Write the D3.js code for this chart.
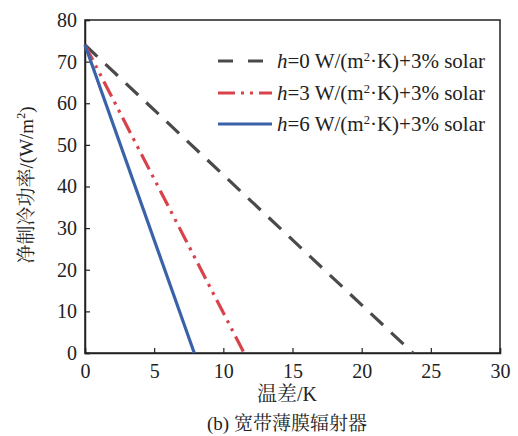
<!DOCTYPE html>
<html><head><meta charset="utf-8">
<script src="https://cdn.jsdelivr.net/npm/d3@7"></script>
<style>body{margin:0;background:#fff}</style>
</head><body>
<script>
const xTicks = [0,5,10,15,20,25,30];
const yTicks = [0,10,20,30,40,50,60,70,80];
const seriesNames = ["h=0","h=3","h=6"];
const seriesX = [[0, 23.7],[0, 11.5],[0, 7.9]];
const seriesY = [[74, 0],[74, 0],[74, 0]];
const colors = ["#4a4a4a","#d8424a","#3a62a8"];
const dashes = ["17,11","17,6,3,6,3,6","none"];
const legendText = ["=0 W/(m","=3 W/(m","=6 W/(m"];

const FONT='"Liberation Serif","Times New Roman","Noto Serif CJK SC","Noto Sans CJK SC",serif';
const W=518,H=436;
const svg=d3.select("body").append("svg").attr("width",W).attr("height",H);
const m={l:85,r:18,t:20,b:83};
const x=d3.scaleLinear().domain([0,30]).range([m.l,W-m.r]);
const y=d3.scaleLinear().domain([0,80]).range([H-m.b,m.t]);

svg.append("rect").attr("x",x(0)).attr("y",y(80)).attr("width",x(30)-x(0)).attr("height",y(0)-y(80))
  .attr("fill","none").attr("stroke","#222").attr("stroke-width",1.5);

const xa=svg.append("g").attr("transform",`translate(0,${y(0)})`)
  .call(d3.axisBottom(x).tickValues(xTicks).tickSize(-5).tickPadding(11));
const ya=svg.append("g").attr("transform",`translate(${x(0)},0)`)
  .call(d3.axisLeft(y).tickValues(yTicks).tickSize(-5).tickPadding(8));
[xa,ya].forEach(a=>{
  a.attr("font-family",FONT).attr("font-size",20);
  a.select(".domain").attr("stroke","#222").attr("stroke-width",1.5);
  a.selectAll(".tick line").attr("stroke","#222").attr("stroke-width",1.2);
  a.selectAll("text").style("font-family",FONT).attr("font-size",20).attr("fill","#222");
});

const line=d3.line().x(d=>x(d[0])).y(d=>y(d[1]));
seriesNames.forEach((n,i)=>{
  const pts=seriesX[i].map((v,j)=>[v,seriesY[i][j]]);
  svg.append("path").datum(pts).attr("d",line).attr("fill","none")
    .attr("stroke",colors[i]).attr("stroke-width",3.2)
    .attr("stroke-dasharray",dashes[i]);
});

// legend
const ly=[61,93,124];
seriesNames.forEach((n,i)=>{
  svg.append("line").attr("x1",218).attr("x2",272).attr("y1",ly[i]).attr("y2",ly[i])
    .attr("stroke",colors[i]).attr("stroke-width",3.2).attr("stroke-dasharray",i==0?"15,15":dashes[i]);
  const t=svg.append("text").attr("x",277).attr("y",ly[i]+7)
    .style("font-family",FONT).attr("font-size",21).attr("fill","#222");
  t.append("tspan").attr("font-style","italic").text("h");
  t.append("tspan").text(legendText[i]);
  t.append("tspan").attr("font-size",12.5).attr("dy",-7.5).text("2");
  t.append("tspan").attr("dy",7.5).text("·K)+3% solar");
});

// axis titles
svg.append("text").attr("x",287).attr("y",401).attr("text-anchor","middle")
  .style("font-family",FONT).attr("font-size",20).attr("fill","#222").text("温差/K");
svg.append("text").attr("x",287).attr("y",430).attr("text-anchor","middle")
  .style("font-family",FONT).attr("font-size",19).attr("fill","#222").text("(b) 宽带薄膜辐射器");
const yt=svg.append("text").attr("transform",`translate(33,185) rotate(-90)`)
  .attr("text-anchor","middle").style("font-family",FONT).attr("font-size",19).attr("fill","#222");
yt.append("tspan").text("净制冷功率/(W/m");
yt.append("tspan").attr("font-size",12).attr("dy",-8).text("2");
yt.append("tspan").attr("dy",8).text(")");
</script>
</body></html>
